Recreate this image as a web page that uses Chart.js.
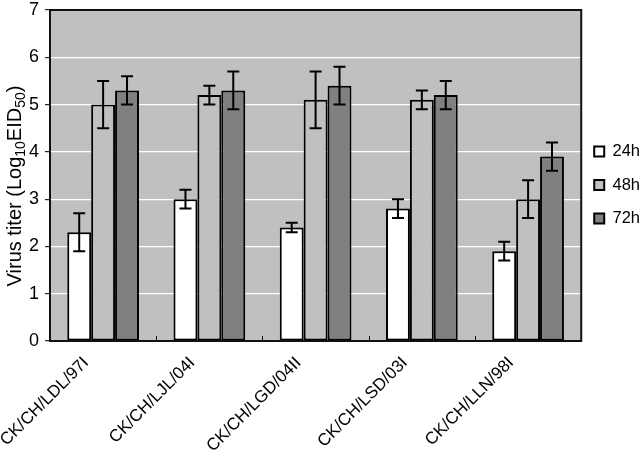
<!DOCTYPE html>
<html>
<head>
<meta charset="utf-8">
<script src="https://cdn.jsdelivr.net/npm/chart.js@4/dist/chart.umd.min.js"></script>
<style>
  html, body { margin: 0; padding: 0; background: #fff; }
  #wrap { width: 640px; height: 464px; }
</style>
</head>
<body>
<div id="wrap"><canvas id="titerChart" width="640" height="464"></canvas></div>
<script>
var strains = ['CK/CH/LDL/97I', 'CK/CH/LJL/04I', 'CK/CH/LGD/04II', 'CK/CH/LSD/03I', 'CK/CH/LLN/98I'];
var titer24 = [2.3, 3.0, 2.4, 2.8, 1.9];
var titer48 = [5.0, 5.2, 5.1, 5.1, 3.0];
var titer72 = [5.3, 5.3, 5.4, 5.2, 3.9];
var err24 = [0.4, 0.2, 0.1, 0.2, 0.2];
var err48 = [0.5, 0.2, 0.6, 0.2, 0.4];
var err72 = [0.3, 0.4, 0.4, 0.3, 0.3];
var yTicks = [0, 1, 2, 3, 4, 5, 6, 7];

var fontName = '"Liberation Sans", Arial, sans-serif';

// plot background, frame, x tick marks, error bars, y title
var extras = {
  id: 'extras',
  afterLayout: function(chart) {
    // nudge the legend to sit like the original
    var lg = chart.legend;
    if (lg) {
      lg.left = chart.chartArea.right - 4;
      lg.top -= 52;
      lg.bottom -= 52;
    }
  },
  beforeDraw: function(chart) {
    var a = chart.chartArea, ctx = chart.ctx;
    ctx.save();
    ctx.fillStyle = '#c0c0c0';
    ctx.fillRect(a.left, a.top, a.right - a.left, a.bottom - a.top);
    ctx.restore();
  },
  afterDatasetsDraw: function(chart) {
    var ctx = chart.ctx;
    var errs = [err24, err48, err72];
    var y = chart.scales.y;
    ctx.save();
    ctx.strokeStyle = '#000';
    ctx.lineWidth = 2;
    chart.data.datasets.forEach(function(ds, i) {
      var meta = chart.getDatasetMeta(i);
      meta.data.forEach(function(bar, j) {
        var v = ds.data[j], e = errs[i][j];
        var top = y.getPixelForValue(v + e), bot = y.getPixelForValue(v - e);
        var x = bar.x, c = 6;
        ctx.beginPath();
        ctx.moveTo(x, top); ctx.lineTo(x, bot);
        ctx.moveTo(x - c, top); ctx.lineTo(x + c, top);
        ctx.moveTo(x - c, bot); ctx.lineTo(x + c, bot);
        ctx.stroke();
      });
    });
    ctx.restore();
  },
  afterDraw: function(chart) {
    var a = chart.chartArea, ctx = chart.ctx, xs = chart.scales.x;
    ctx.save();
    ctx.strokeStyle = '#111';
    ctx.lineWidth = 2;
    ctx.strokeRect(a.left, a.top, a.right - a.left, a.bottom - a.top);
    ctx.lineWidth = 1;
    for (var k = 1; k < strains.length; k++) {
      var px = Math.round(xs.getPixelForValue(k - 0.5)) + 0.5;
      ctx.beginPath();
      ctx.moveTo(px, a.bottom); ctx.lineTo(px, a.bottom - 5);
      ctx.stroke();
    }
    // y axis title with subscripts
    var parts = [['Virus titer (Log', 20, 0], ['10', 14, 4], ['EID', 20, 0], ['50', 14, 4], [')', 20, 0]];
    var total = 0;
    parts.forEach(function(p) { ctx.font = p[1] + 'px ' + fontName; total += ctx.measureText(p[0]).width; });
    ctx.translate(15, 186);
    ctx.rotate(-Math.PI / 2);
    ctx.fillStyle = '#000';
    ctx.textBaseline = 'alphabetic';
    var cx = -total / 2;
    parts.forEach(function(p) {
      ctx.font = p[1] + 'px ' + fontName;
      ctx.fillText(p[0], cx, 6 + p[2]);
      cx += ctx.measureText(p[0]).width;
    });
    ctx.restore();
  }
};

var data = {
  labels: strains,
  datasets: [
    { label: '24h', data: titer24, backgroundColor: '#ffffff' },
    { label: '48h', data: titer48, backgroundColor: '#c0c0c0' },
    { label: '72h', data: titer72, backgroundColor: '#808080' }
  ]
};

var options = {
  responsive: false,
  animation: false,
  layout: { padding: { top: 10, right: -14, bottom: 0, left: 0 } },
  datasets: {
    bar: {
      borderColor: '#000',
      borderWidth: 2,
      borderSkipped: false,
      categoryPercentage: 0.675,
      barPercentage: 1
    }
  },
  plugins: {
    tooltip: { enabled: false },
    legend: {
      position: 'right',
      labels: {
        boxWidth: 10, boxHeight: 10, padding: 17,
        color: '#000',
        font: { family: fontName, size: 16.5 }
      }
    }
  },
  scales: {
    x: {
      afterFit: function(scale) { scale.height = 123; },
      grid: { display: false },
      border: { display: false },
      ticks: {
        maxRotation: 45, minRotation: 45, color: '#000',
        font: { family: fontName, size: 17 }, padding: 4, labelOffset: -17
      }
    },
    y: {
      min: 0, max: 7,
      afterFit: function(scale) {
        scale.width = 50;
        scale.paddingTop = 0;
        scale.paddingBottom = 0;
      },
      afterBuildTicks: function(scale) { scale.ticks = yTicks.map(function(v) { return { value: v }; }); },
      grid: { color: '#ffffff', lineWidth: 1.2, tickColor: '#222', tickLength: 5 },
      border: { display: false },
      ticks: { color: '#000', font: { family: fontName, size: 18 }, padding: 6 }
    }
  }
};

new Chart(document.getElementById('titerChart'), {
  type: 'bar',
  data: data,
  options: options,
  plugins: [extras]
});
</script>
</body>
</html>
